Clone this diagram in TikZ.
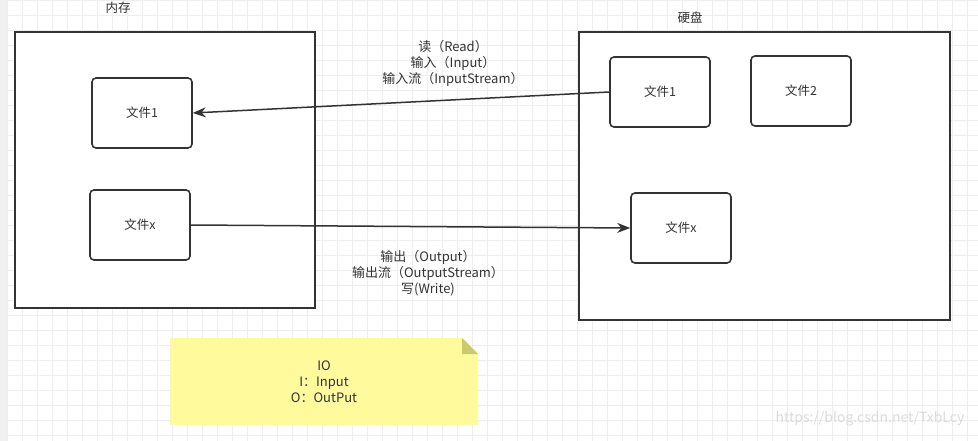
\documentclass[tikz,border=0pt]{standalone}
\usepackage{fontspec}
\setmainfont{Noto Sans CJK SC}
\usepackage{tikz}
\usepackage{xcolor}
\usetikzlibrary{arrows.meta}
\definecolor{inkgray}{HTML}{333333}
\definecolor{notefill}{HTML}{FFFA9C}
\definecolor{notefold}{HTML}{CCC86E}
\tikzset{
    area-box/.style = {draw=inkgray, fill=white, line width=1.6pt, rectangle, inner sep=0pt},
    file-box/.style = {draw=inkgray, fill=white, line width=1.6pt, rectangle, rounded corners=4pt, minimum width=100pt, minimum height=70pt, text=inkgray, font=\fontsize{12.5}{14}\selectfont},
    area-title/.style = {text=inkgray, font=\fontsize{12.5}{14}\selectfont},
    io-arrow/.style = {draw=inkgray, line width=1.5pt, -{Stealth[length=13pt,width=10pt]}},
    io-label/.style = {text=inkgray, align=center, font=\fontsize{13}{16}\selectfont},
    grid-line/.style = {gray!13, line width=0.8pt},
}

\begin{document}
\begin{tikzpicture}[x=1pt, y=-1pt]
\useasboundingbox (0,0) rectangle (978,441);
\fill[white] (0,0) rectangle (978,441);
\fill[gray!12] (0,0) rectangle (7,441);
\foreach \gx in {0,...,64} {
    \draw[grid-line] (7.7+15*\gx,0) -- (7.7+15*\gx,441);
}
\foreach \gy in {0,...,29} {
    \draw[grid-line] (7,15*\gy) -- (978,15*\gy);
}

% memory side
\node[area-box, minimum width=300pt, minimum height=276pt] (memory) at (165,170) {};
\node[area-title] (memory-title) at (118,8) {内存};
\node[file-box] (mem-file1) at (142,113) {文件1};
\node[file-box] (mem-filex) at (140,225) {文件x};

% disk side
\node[area-box, minimum width=371pt, minimum height=288pt] (disk) at (764.5,176) {};
\node[area-title] (disk-title) at (690,18) {硬盘};
\node[file-box] (disk-file1) at (660,92) {文件1};
\node[file-box] (disk-file2) at (801,91) {文件2};
\node[file-box] (disk-filex) at (681,228) {文件x};

\draw[io-arrow] (disk-file1.west) -- (mem-file1.east);
\draw[io-arrow] (mem-filex.east) -- (disk-filex.west);

\node[io-label] (read-label) at (453,63) {读（Read）\\输入（Input）\\输入流（InputStream）};
\node[io-label] (write-label) at (428,273) {输出（Output）\\输出流（OutputStream）\\写(Write)};

% note
\fill[notefill] (170,338) -- (462,338) -- (478,354) -- (478,425) -- (170,425) -- cycle;
\fill[notefold] (462,338) -- (478,354) -- (462,354) -- cycle;
\node[io-label] (io-note) at (324,382) {IO\\I：Input\\O：OutPut};

\node[text=gray!28, font=\fontsize{14}{16}\selectfont] (watermark) at (870,419) {https://blog.csdn.net/TxbLcy};
\end{tikzpicture}
\end{document}
